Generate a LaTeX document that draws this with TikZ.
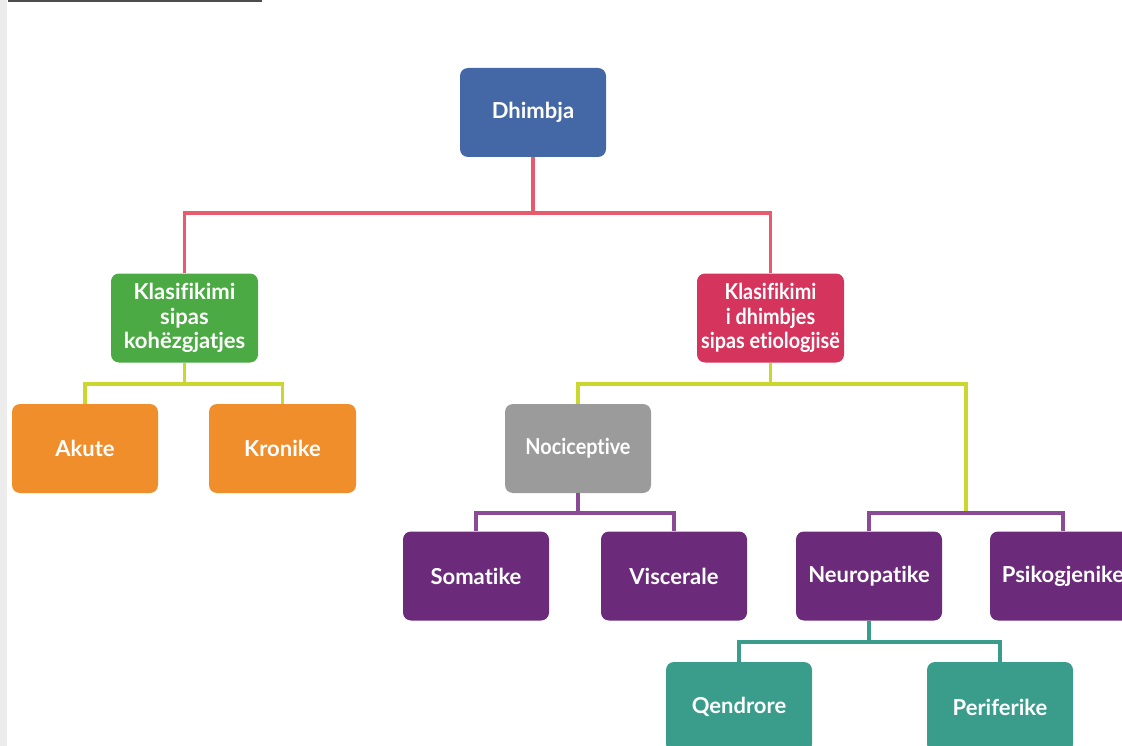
\documentclass[tikz,border=0pt]{standalone}
\usepackage{fontspec}
\setmainfont{Lato}[Ligatures=NoCommon]
\newfontfamily\narrowfont{Lato}[FakeStretch=0.9, Ligatures=NoCommon]
\usetikzlibrary{positioning,calc}

\definecolor{boxblue}{HTML}{4468A6}
\definecolor{boxgreen}{HTML}{4BAA44}
\definecolor{boxcrimson}{HTML}{D5345C}
\definecolor{boxorange}{HTML}{F08E2C}
\definecolor{boxgray}{HTML}{9B9B9B}
\definecolor{boxpurple}{HTML}{6B2B7A}
\definecolor{boxteal}{HTML}{3A9D8B}
\definecolor{linered}{HTML}{E85A6E}
\definecolor{linelime}{HTML}{C9D72F}
\definecolor{linepurple}{HTML}{8A4A95}

\begin{document}
\begin{tikzpicture}[
    x=1pt, y=-1pt,
    box/.style={rounded corners=8pt, minimum width=146pt, minimum height=89pt,
        inner sep=0pt, align=center, text=white,
        font=\fontsize{22}{24.5}\selectfont\bfseries},
    link/.style={line width=3.5pt}
]
    \useasboundingbox (0,0) rectangle (1122,746);
    \clip (0,0) rectangle (1122,746);
    \fill[gray!15] (0,0) rectangle (7,746);
    \draw[black!70, line width=2.5pt] (8,1) -- (262,1);

    % levels of the tree
    \node[box, fill=boxblue] (dhimbja) at (533,112.5) {Dhimbja};
    \node[box, fill=boxgreen, minimum width=147pt] (kohe) at (184.5,318)
        {Klasifikimi\\sipas\\kohëzgjatjes};
    \node[box, fill=boxcrimson, minimum width=147pt] (etio) at (770.5,318)
        {\narrowfont Klasifikimi\\\narrowfont i dhimbjes\\\narrowfont sipas etiologjisë};
    \node[box, fill=boxorange] (akute) at (85,448.5) {Akute};
    \node[box, fill=boxorange, minimum width=147pt] (kronike) at (282.5,448.5) {Kronike};
    \node[box, fill=boxgray] (noci) at (578,448.5) {\narrowfont Nociceptive};
    \node[box, fill=boxpurple] (somatike) at (476,576) {Somatike};
    \node[box, fill=boxpurple] (viscerale) at (674,576) {Viscerale};
    \node[box, fill=boxpurple] (neuro) at (869,576) {Neuropatike};
    \node[box, fill=boxpurple] (psiko) at (1063,576) {Psikogjenike};
    \node[box, fill=boxteal, minimum height=90pt] (qendrore) at (739,707) {Qendrore};
    \node[box, fill=boxteal, minimum height=90pt] (periferike) at (1000,707) {Periferike};

    \coordinate (barA) at (0,213);
    \coordinate (barB) at (0,384);
    \coordinate (barC) at (0,513);
    \coordinate (barD) at (0,642);
    \coordinate (split) at ($(neuro.north)!0.5!(psiko.north)$);

    \draw[link, linered] (dhimbja.south) -- (dhimbja.south |- barA) -| (kohe.north);
    \draw[link, linered] (dhimbja.south |- barA) -| (etio.north);
    \draw[link, linelime] (kohe.south) -- (kohe.south |- barB) -| (akute.north);
    \draw[link, linelime] (kohe.south |- barB) -| (kronike.north);
    \draw[link, linelime] (etio.south) -- (etio.south |- barB) -| (noci.north);
    \draw[link, linelime] (etio.south |- barB) -| (split |- barC);
    \draw[link, linepurple] (noci.south) -- (noci.south |- barC) -| (somatike.north);
    \draw[link, linepurple] (noci.south |- barC) -| (viscerale.north);
    \draw[link, linepurple] (neuro.north) -- (neuro.north |- barC) -| (psiko.north);
    \draw[link, boxteal] (neuro.south) -- (neuro.south |- barD) -| (qendrore.north);
    \draw[link, boxteal] (neuro.south |- barD) -| (periferike.north);
\end{tikzpicture}
\end{document}
